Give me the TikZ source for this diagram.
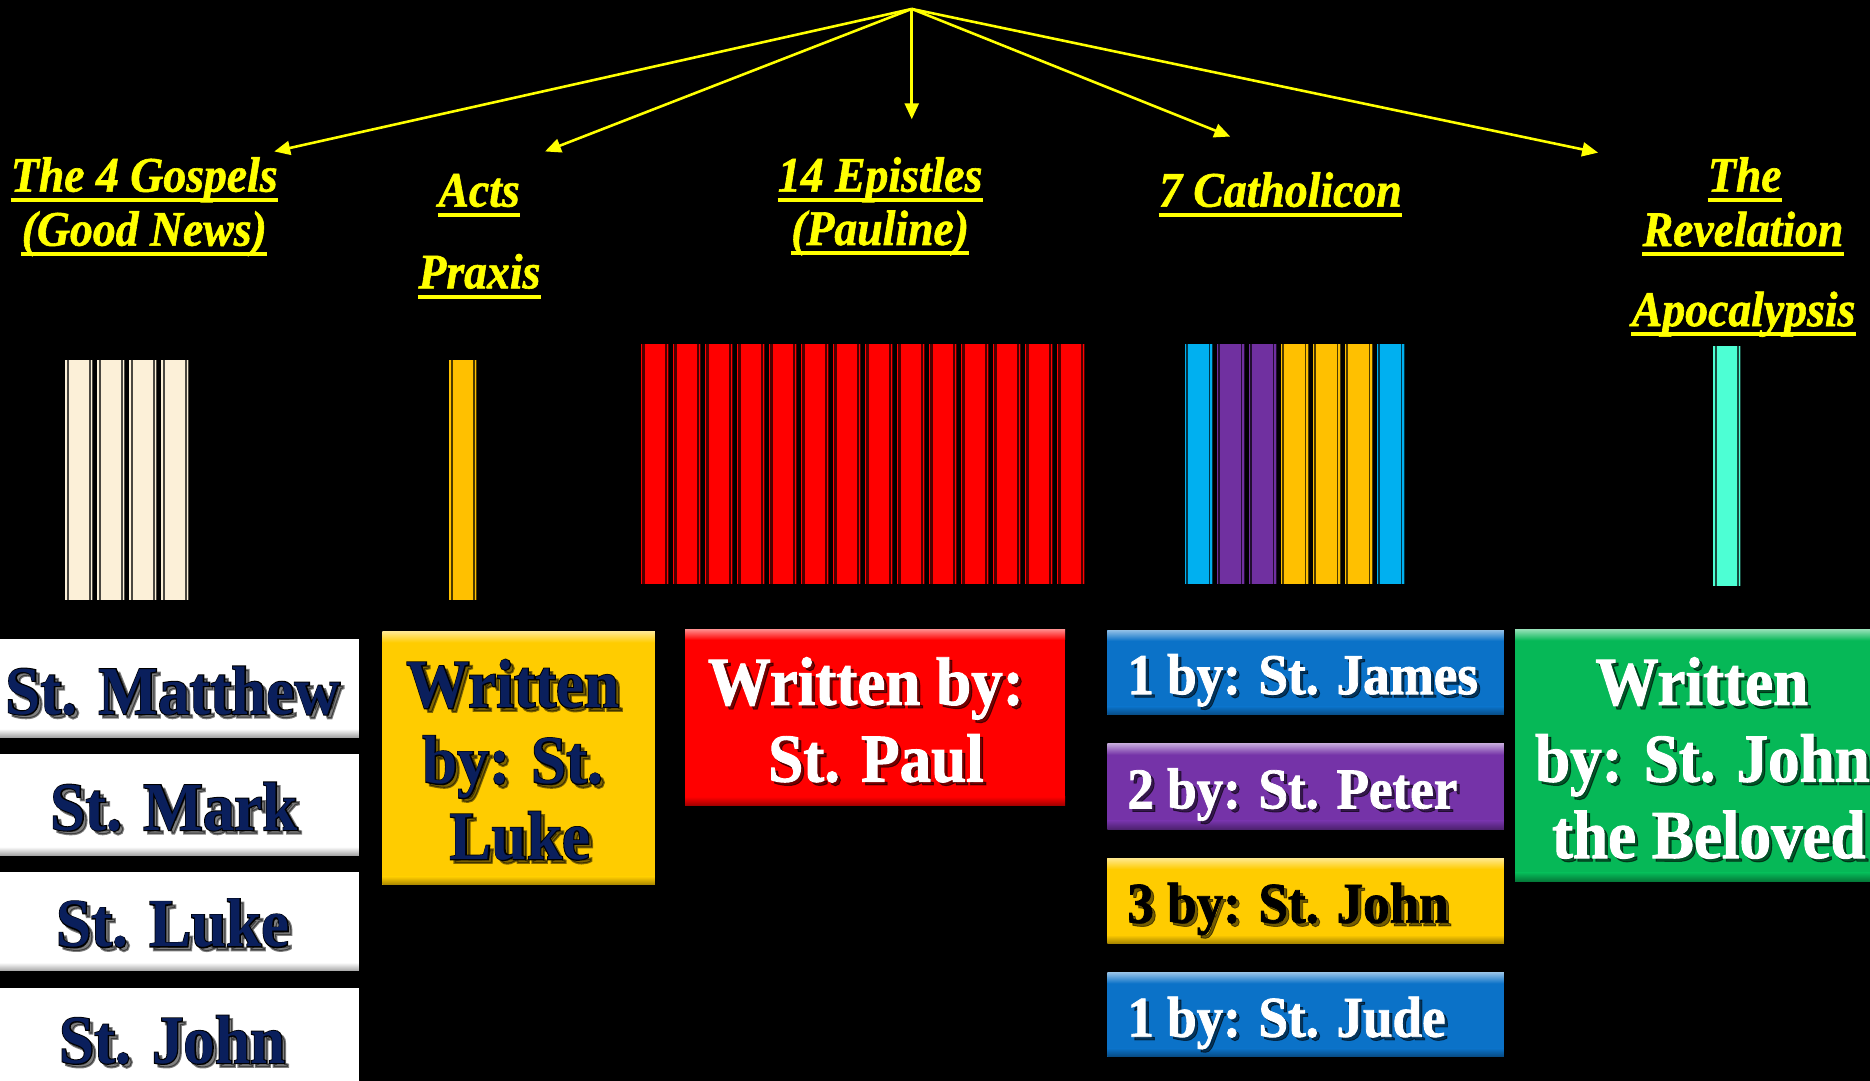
\documentclass[tikz,border=0pt]{standalone}
\usepackage{fontspec}
\setmainfont{Liberation Serif}
\newfontfamily\headfont{Liberation Serif}[FakeStretch=0.92,BoldItalicFeatures={FakeBold=1.2}]
\newfontfamily\labelfont{Liberation Serif}[FakeStretch=0.92]
\newfontfamily\labelheavy{Liberation Serif}[FakeStretch=0.92,BoldFeatures={FakeBold=1.4}]
\newfontfamily\labeledgefont{Liberation Serif}[FakeStretch=0.92,BoldFeatures={FakeBold=3}]
\usetikzlibrary{arrows.meta}

\definecolor{ylw}{HTML}{FFFF00}
\definecolor{navy}{HTML}{0A1F5C}
\definecolor{cream}{HTML}{FCF0D8}
\definecolor{gold}{HTML}{FFC000}
\definecolor{aqua}{HTML}{4DFFD4}
\definecolor{sky}{HTML}{00B0F0}
\definecolor{plum}{HTML}{7030A0}
\definecolor{boxgold}{HTML}{FFCC00}
\definecolor{boxblue}{HTML}{0B72C8}
\definecolor{boxplum}{HTML}{7533A8}
\definecolor{boxgreen}{HTML}{06B857}
\definecolor{boxred}{HTML}{FF0000}

% one book spine: left x, top y, colour
\newcommand\spine[3]{%
  \fill[#3] (#1,#2) rectangle ++(23.7,201);
  \fill[#3!30!black] ({#1+1.4},#2) rectangle ++(1.9,201);
  \fill[#3!30!black] ({#1+20.3},#2) rectangle ++(1.4,201);
  \fill[#3!30!black] ({#1+22.8},#2) rectangle ++(0.9,201);
}

% bevelled box: name, x1, y1, x2, y2, colour
\newcommand\bevelbox[6]{%
  \fill[#6] (#2,#3) rectangle (#4,#5);
  \shade[top color=#6!45!white, bottom color=#6] (#2,#3) rectangle (#4,{#3+9});
  \shade[top color=#6, bottom color=#6!65!black] (#2,{#5-7}) rectangle (#4,#5);
  \coordinate (#1) at ({(#2+#4)/2},{(#3+#5)/2});
}

% heading line with thick underline: name, x, baseline, text
\newcommand\heading[4]{%
  \node[headtext] (#1) at (#2,#3) {#4};
  \draw[uline] ([yshift=-4.2pt]#1.base west) -- ([yshift=-4.2pt]#1.base east);
}

% navy lettering with a black edge and drop shadow: name, x, baseline, text
\newcommand\darklabel[4]{%
  \node[bigface, text=black, opacity=0.5, xshift=1.8pt, yshift=-1.8pt,
        font=\labeledgefont\bfseries\fontsize{34.5}{41}\selectfont] at (#2,#3) {#4};
  \node[bigface, text=black,
        font=\labeledgefont\bfseries\fontsize{34.5}{41}\selectfont] at (#2,#3) {#4};
  \node[bigface, text=navy] (#1) at (#2,#3) {#4};
}

% lettering with a soft drop shadow: name, x, baseline, style, colour, text
\newcommand\shadowlabel[6]{%
  \node[#4, text=black, opacity=0.55, xshift=1.6pt, yshift=-1.6pt] at (#2,#3) {#6};
  \node[#4, text=#5] (#1) at (#2,#3) {#6};
}

\begin{document}
\begin{tikzpicture}[x=0.6pt,y=-0.6pt,
  link/.style={draw=ylw, line width=1.3pt, -{Triangle[length=8pt,width=7pt]}},
  headtext/.style={anchor=base, inner sep=0pt, text=ylw,
    font=\headfont\bfseries\itshape\fontsize{25}{30}\selectfont},
  uline/.style={draw=ylw, line width=2.1pt},
  bigface/.style={anchor=base, inner sep=0pt,
    font=\labelfont\bfseries\fontsize{34.5}{41}\selectfont},
  heavyface/.style={anchor=base, inner sep=0pt,
    font=\labelheavy\bfseries\fontsize{34.5}{41}\selectfont},
  smallface/.style={anchor=base west, inner sep=0pt,
    font=\labelheavy\bfseries\fontsize{29}{35}\selectfont},
]
\useasboundingbox (0,0) rectangle (1568,906);
\fill[black] (0,0) rectangle (1568,906);

% ---- fan of arrows from the top ----
\coordinate (apex) at (764.5,7.5);
\coordinate (tipGospels) at (230,127);
\coordinate (tipActs) at (457,127);
\coordinate (tipEpistles) at (764.5,100);
\coordinate (tipCatholicon) at (1031.5,114.5);
\coordinate (tipRevelation) at (1340,128);
\foreach \t in {tipGospels,tipActs,tipEpistles,tipCatholicon,tipRevelation}
  \draw[link] (apex) -- (\t);

% ---- headings ----
\heading{hGos1}{121}{160.7}{The 4 Gospels}
\heading{hGos2}{121}{206}{(Good News)}
\heading{hActs}{401.7}{173.3}{Acts}
\heading{hPraxis}{402}{241.8}{Praxis}
\heading{hEpi1}{738}{160.7}{14 Epistles}
\heading{hEpi2}{738}{205.4}{(Pauline)}
\heading{hCath}{1073.6}{173.3}{7 Catholicon}
\heading{hRev1}{1463}{160.7}{The}
\heading{hRev2}{1461.5}{206.3}{Revelation}
\heading{hRev3}{1462}{273.4}{Apocalypsis}

% ---- book spines ----
\foreach \i in {0,...,3} \spine{54.5+26.83*\i}{302}{cream};
\spine{376.5}{302}{gold}
\foreach \i in {0,...,13} \spine{537.2+26.83*\i}{288.5}{boxred};
\foreach \bookcol [count=\i from 0] in {sky,plum,plum,gold,gold,gold,sky}
  \spine{993.2+26.83*\i}{288.5}{\bookcol};
\spine{1436.5}{290}{aqua}

% ---- Gospel writers ----
\bevelbox{bMatthew}{-12}{536}{301}{618}{white}
\bevelbox{bMark}{-12}{633}{301}{717}{white}
\bevelbox{bLuke}{-12}{732}{301}{814}{white}
\bevelbox{bJohn}{-12}{829}{301}{925}{white}
\darklabel{tMatthew}{145}{598.7}{St. Matthew}
\darklabel{tMark}{146}{696}{St. Mark}
\darklabel{tLuke}{145}{793.8}{St. Luke}
\darklabel{tJohn}{144.5}{891.5}{St. John}

% ---- Acts ----
\bevelbox{bActs}{320.7}{529.7}{549}{742}{boxgold}
\darklabel{tActs1}{430}{593}{Written}
\darklabel{tActs2}{430}{657}{by: St.}
\darklabel{tActs3}{436}{720.5}{Luke}

% ---- Pauline epistles ----
\bevelbox{bPaul}{574.4}{527.6}{893}{675}{boxred}
\shadowlabel{tPaul1}{726}{591}{heavyface}{white}{Written by:}
\shadowlabel{tPaul2}{734.5}{655.4}{heavyface}{white}{St. Paul}

% ---- Catholic epistles ----
\bevelbox{bJames}{928.5}{528.3}{1261}{599.5}{boxblue}
\bevelbox{bPeter}{928.5}{623.8}{1261}{695.4}{boxplum}
\bevelbox{bJohnE}{928.5}{719.7}{1261}{791}{boxgold}
\bevelbox{bJude}{928.5}{815.6}{1261}{886}{boxblue}
\shadowlabel{tJames}{945}{582}{smallface}{white}{1 by: St. James}
\shadowlabel{tPeter}{945}{677.8}{smallface}{white}{2 by: St. Peter}
\shadowlabel{tJohnE}{945}{773.7}{smallface}{black}{3 by: St. John}
\shadowlabel{tJude}{945}{869.3}{smallface}{white}{1 by: St. Jude}

% ---- Revelation ----
\bevelbox{bRev}{1270.4}{528}{1590}{739}{boxgreen}
\shadowlabel{tRev1}{1427}{591}{heavyface}{white}{Written}
\shadowlabel{tRev2}{1427.5}{655.4}{heavyface}{white}{by: St. John}
\shadowlabel{tRev3}{1301}{719.5}{heavyface,anchor=base west}{white}{the Beloved}
\end{tikzpicture}
\end{document}
